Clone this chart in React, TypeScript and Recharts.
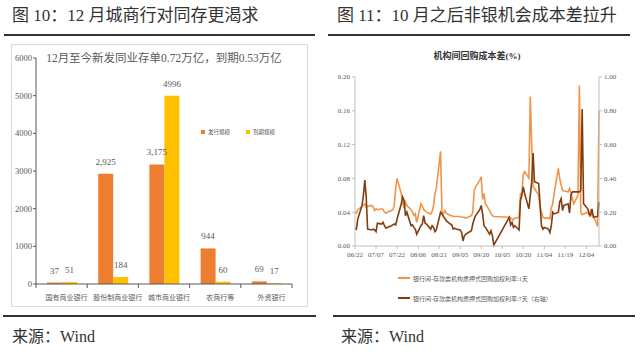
import React from 'react';
import { BarChart, Bar, XAxis, YAxis, LabelList, Legend, LineChart, Line } from 'recharts';

// fig 10: interbank CD issuance vs maturity by bank type (100m yuan)
const BANKS = ['国有商业银行', '股份制商业银行', '城市商业银行', '农商行等', '外资银行'];
const ISSUED = [37, 2925, 3175, 944, 69];
const MATURED = [51, 184, 4996, 60, 17];
const BAR_TICKS = [0, 1000, 2000, 3000, 4000, 5000, 6000];

// fig 11: repo cost spreads (%), 1d on left axis, 7d on right axis
const DATES = [
  '06/22', '06/23', '06/24', '06/27', '06/28', '06/29', '06/30', '07/01', '07/04', '07/05',
  '07/06', '07/07', '07/08', '07/11', '07/12', '07/13', '07/14', '07/15', '07/18', '07/19',
  '07/20', '07/21', '07/22', '07/25', '07/26', '07/27', '07/28', '07/29', '08/01', '08/02',
  '08/03', '08/04', '08/05', '08/08', '08/09', '08/10', '08/11', '08/12', '08/15', '08/16',
  '08/17', '08/18', '08/19', '08/22', '08/23', '08/24', '08/25', '08/26', '08/29', '08/30',
  '08/31', '09/01', '09/02', '09/05', '09/06', '09/07', '09/08', '09/09', '09/13', '09/14',
  '09/15', '09/16', '09/19', '09/20', '09/21', '09/22', '09/23', '09/26', '09/27', '09/28',
  '09/29', '10/10', '10/11', '10/12', '10/13', '10/14', '10/17', '10/18', '10/19', '10/20',
  '10/21', '10/24', '10/25', '10/26', '10/27', '10/28', '10/31', '11/01', '11/02', '11/03',
  '11/04', '11/07', '11/08', '11/09', '11/10', '11/11', '11/14', '11/15', '11/16', '11/17',
  '11/18', '11/21', '11/22', '11/23', '11/24', '11/25', '11/28', '11/29', '11/30', '12/01',
  '12/02', '12/05', '12/06', '12/07', '12/08', '12/09', '12/12', '12/13',
];
const SPREAD_1D = [
  0.040, 0.039, 0.043, 0.047, 0.048, 0.050, 0.046, 0.047, 0.048, 0.046,
  0.042, 0.044, 0.043, 0.044, 0.043, 0.040, 0.039, 0.040, 0.042, 0.043,
  0.048, 0.068, 0.080, 0.062, 0.052, 0.045, 0.052, 0.048, 0.043, 0.040,
  0.036, 0.038, 0.028, 0.050, 0.047, 0.043, 0.042, 0.040, 0.038, 0.041,
  0.048, 0.062, 0.068, 0.112, 0.040, 0.038, 0.042, 0.039, 0.036, 0.036,
  0.035, 0.035, 0.035, 0.035, 0.034, 0.034, 0.034, 0.033, 0.036, 0.040,
  0.065, 0.070, 0.078, 0.082, 0.055, 0.062, 0.050, 0.042, 0.038, 0.036,
  0.035, 0.034, 0.033, 0.032, 0.031, 0.033, 0.034, 0.062, 0.063, 0.085,
  0.088, 0.080, 0.177, 0.120, 0.070, 0.068, 0.060, 0.045, 0.040, 0.034,
  0.033, 0.033, 0.032, 0.045, 0.050, 0.062, 0.092, 0.080, 0.072, 0.066,
  0.065, 0.064, 0.068, 0.062, 0.056, 0.050, 0.060, 0.190, 0.040, 0.037,
  0.038, 0.040, 0.036, 0.042, 0.038, 0.036, 0.023, 0.160,
];
const SPREAD_7D = [
  0.105, 0.100, 0.160, 0.240, 0.300, 0.390, 0.290, 0.100, 0.095, 0.100,
  0.095, 0.085, 0.135, 0.130, 0.140, 0.120, 0.105, 0.110, 0.120, 0.125,
  0.130, 0.125, 0.160, 0.250, 0.290, 0.270, 0.180, 0.200, 0.120, 0.125,
  0.110, 0.100, 0.070, 0.120, 0.130, 0.180, 0.135, 0.130, 0.100, 0.120,
  0.110, 0.085, 0.095, 0.200, 0.190, 0.175, 0.165, 0.150, 0.130, 0.125,
  0.100, 0.105, 0.100, 0.095, 0.080, 0.030, 0.060, 0.070, 0.090, 0.130,
  0.160, 0.180, 0.215, 0.240, 0.190, 0.120, 0.110, 0.070, 0.090, 0.060,
  0.005, 0.170, 0.125, 0.140, 0.110, 0.120, 0.095, 0.270, 0.300, 0.350,
  0.310, 0.220, 0.300, 0.380, 0.550, 0.380, 0.370, 0.240, 0.120, 0.100,
  0.110, 0.100, 0.080, 0.120, 0.200, 0.190, 0.200, 0.260, 0.280, 0.210,
  0.240, 0.250, 0.195, 0.300, 0.320, 0.320, 0.320, 0.320, 0.330, 0.810,
  0.250, 0.220, 0.190, 0.180, 0.220, 0.170, 0.175, 0.260,
];
const DATE_TICKS = ['06/22', '07/07', '07/22', '08/06', '08/21', '09/05', '09/20', '10/05', '10/20', '11/04', '11/19', '12/04'];
const LEFT_TICKS = [0, 0.04, 0.08, 0.12, 0.16, 0.2];
const RIGHT_TICKS = [0, 0.2, 0.4, 0.6, 0.8, 1];

const SERIF = "'Liberation Serif', 'Noto Sans CJK SC', serif";
const ORANGE = '#ED7D31';
const YELLOW = '#FFC000';
const LIGHT = '#F0944A';
const DARK = '#843C0C';

const BAR_W = 297;
const BAR_H = 263;
const BAR_MARGIN = { top: 14, right: 16, left: 0, bottom: 0 };
const BAR_YAXIS_W = 25;
const BAR_PLOT_W = BAR_W - BAR_MARGIN.right - BAR_MARGIN.left - BAR_YAXIS_W;
const BAR_KEYS = ['issued', 'matured'];

const dayOf = (s: string) => {
  const [m, d] = s.split('/').map(Number);
  return (Date.UTC(2022, m - 1, d) - Date.UTC(2022, 5, 22)) / 86400000;
};

const barData = BANKS.map((name, i) => ({ name, issued: ISSUED[i], matured: MATURED[i] }));
const lineData = DATES.map((d, i) => ({ day: dayOf(d), d1: SPREAD_1D[i], d7: SPREAD_7D[i] }));

// excel-style ticks between categories
const BandTick = ({ x, y, payload, index }: any) => {
  const half = BAR_PLOT_W / BANKS.length / 2;
  return (
    <g>
      <line x1={x - half} x2={x - half} y1={y} y2={y + 4} stroke="#595959" />
      {index === BANKS.length - 1 && <line x1={x + half} x2={x + half} y1={y} y2={y + 4} stroke="#595959" />}
      <text x={x + 5} y={y + 14} textAnchor="middle" dominantBaseline="central" fontSize={7} fill="#595959" fontFamily={SERIF}>
        {payload.value}
      </text>
    </g>
  );
};

const BarLegend = ({ payload }: any) => {
  const items = [...(payload || [])].sort((a: any, b: any) => BAR_KEYS.indexOf(a.dataKey) - BAR_KEYS.indexOf(b.dataKey));
  return (
    <div style={{ display: 'flex', gap: 16, fontSize: 5.5, color: '#595959', fontFamily: SERIF, lineHeight: '10px' }}>
      {items.map((p: any) => (
        <div key={p.value} style={{ display: 'flex', alignItems: 'center', gap: 3 }}>
          <span style={{ width: 4, height: 4, background: p.color, display: 'inline-block' }} />
          {p.value}
        </div>
      ))}
    </div>
  );
};

const LineLegend = ({ payload }: any) => (
  <div style={{ fontSize: 6, color: '#595959', fontFamily: SERIF }}>
    {(payload || []).map((p: any) => (
      <div key={p.value} style={{ display: 'flex', alignItems: 'center', gap: 3, height: 20 }}>
        <span style={{ width: 12, height: 2.5, background: p.color, display: 'inline-block' }} />
        {p.value}
      </div>
    ))}
  </div>
);

const rule = (left: number, top: number, width: number) => (
  <div style={{ position: 'absolute', left, top, width, height: 1.5, background: '#333' }} />
);

export default function App() {
  const lastDay = dayOf(DATES[DATES.length - 1]);
  return (
    <div style={{ position: 'absolute', left: 0, top: 0, width: 640, height: 355, background: '#fff', overflow: 'hidden', fontFamily: SERIF }}>
      {/* headers */}
      <div style={{ position: 'absolute', left: 12, top: 6, fontSize: 17, lineHeight: '20px', color: '#333', whiteSpace: 'nowrap' }}>
        图 10：12 月城商行对同存更渴求
      </div>
      <div style={{ position: 'absolute', left: 337, top: 6, fontSize: 17, lineHeight: '20px', color: '#333', whiteSpace: 'nowrap' }}>
        图 11：10 月之后非银机会成本差拉升
      </div>
      {rule(4, 34, 311)}
      {rule(328, 34, 302)}

      {/* fig 10 */}
      <div style={{ position: 'absolute', left: 11, top: 44, width: BAR_W, height: BAR_H, border: '1px solid #d9d9d9', boxSizing: 'border-box' }} />
      <div style={{ position: 'absolute', left: 11, top: 44 }}>
        <BarChart width={BAR_W} height={BAR_H} data={barData} margin={BAR_MARGIN} barGap={0}>
          <XAxis dataKey="name" height={23} tickSize={0} tickMargin={0} interval={0} axisLine={{ stroke: '#595959' }} tick={(props: any) => <BandTick {...props} />} />
          <YAxis
            width={BAR_YAXIS_W}
            domain={[0, 6000]}
            ticks={BAR_TICKS}
            interval={0}
            tickSize={3}
            tickMargin={1}
            axisLine={{ stroke: '#595959' }}
            tickLine={{ stroke: '#595959' }}
            tick={{ fontSize: 8.5, fill: '#595959', fontFamily: SERIF }}
          />
          <Legend layout="horizontal" verticalAlign="middle" align="center" wrapperStyle={{ left: 190, top: 83, width: 'auto' }} content={<BarLegend />} />
          <Bar dataKey="issued" name="发行规模" fill={ORANGE} barSize={15} isAnimationActive={false}>
            <LabelList dataKey="issued" position="top" offset={9} formatter={(v: any) => Number(v).toLocaleString('en-US')} fontSize={9} fill="#595959" fontFamily={SERIF} />
          </Bar>
          <Bar dataKey="matured" name="到期规模" fill={YELLOW} barSize={15} isAnimationActive={false}>
            <LabelList dataKey="matured" position="top" offset={9} fontSize={9} fill="#595959" fontFamily={SERIF} />
          </Bar>
        </BarChart>
      </div>
      <div style={{ position: 'absolute', left: 36, top: 50, width: 256, textAlign: 'center', fontSize: 11.5, lineHeight: '16px', color: '#595959', whiteSpace: 'nowrap' }}>
        12月至今新发同业存单0.72万亿，到期0.53万亿
      </div>

      {/* fig 11 */}
      <div style={{ position: 'absolute', left: 355, top: 50, width: 244, textAlign: 'center', fontSize: 9, lineHeight: '12px', fontWeight: 'bold', color: '#333' }}>
        机构间回购成本差(%)
      </div>
      <div style={{ position: 'absolute', left: 322, top: 62 }}>
        <LineChart width={300} height={205} data={lineData} margin={{ top: 15, right: 0, left: 0, bottom: 0 }}>
          <XAxis
            dataKey="day"
            type="number"
            domain={[0, lastDay]}
            ticks={DATE_TICKS.map(dayOf)}
            interval={0}
            tickFormatter={(_v: any, i: number) => DATE_TICKS[i]}
            height={21}
            tickSize={3}
            tickMargin={3}
            axisLine={{ stroke: '#bfbfbf' }}
            tickLine={{ stroke: '#bfbfbf' }}
            tick={{ fontSize: 7, fill: '#595959', fontFamily: SERIF }}
          />
          <YAxis
            yAxisId="left"
            width={33}
            domain={[0, 0.2]}
            ticks={LEFT_TICKS}
            interval={0}
            tickFormatter={(v: number) => v.toFixed(2)}
            tickSize={3}
            tickMargin={2}
            axisLine={{ stroke: '#bfbfbf' }}
            tickLine={{ stroke: '#bfbfbf' }}
            tick={{ fontSize: 7, fill: '#595959', fontFamily: SERIF }}
          />
          <YAxis
            yAxisId="right"
            orientation="right"
            width={23}
            domain={[0, 1]}
            ticks={RIGHT_TICKS}
            interval={0}
            tickFormatter={(v: number) => v.toFixed(2)}
            tickSize={3}
            tickMargin={2}
            axisLine={{ stroke: '#bfbfbf' }}
            tickLine={{ stroke: '#bfbfbf' }}
            tick={{ fontSize: 7, fill: '#595959', fontFamily: SERIF }}
          />
          <Legend layout="horizontal" verticalAlign="middle" align="center" wrapperStyle={{ left: 76, top: 206, width: 'auto' }} content={<LineLegend />} />
          <Line yAxisId="left" dataKey="d1" name="银行间-存款类机构质押式回购加权利率:1天" stroke={LIGHT} strokeWidth={1.6} dot={false} isAnimationActive={false} />
          <Line yAxisId="right" dataKey="d7" name="银行间-存款类机构质押式回购加权利率:7天（右轴）" stroke={DARK} strokeWidth={1.6} dot={false} isAnimationActive={false} />
        </LineChart>
      </div>

      {/* sources */}
      {rule(3, 315, 313)}
      {rule(333, 315, 302)}
      <div style={{ position: 'absolute', left: 12, top: 327, fontSize: 16, lineHeight: '20px', color: '#333' }}>来源：Wind</div>
      <div style={{ position: 'absolute', left: 341, top: 327, fontSize: 16, lineHeight: '20px', color: '#333' }}>来源：Wind</div>
    </div>
  );
}
